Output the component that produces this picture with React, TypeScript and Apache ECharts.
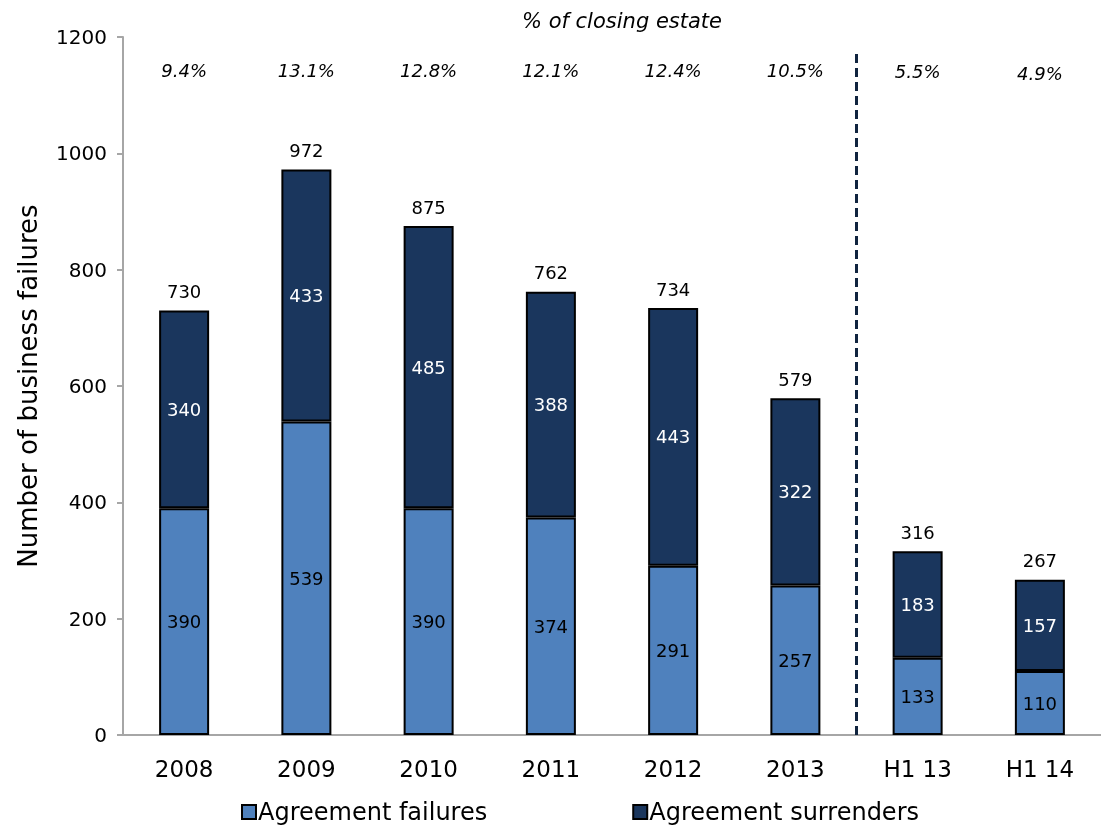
import React, { useEffect, useRef } from "react";
import * as echarts from "echarts";

const categories = ["2008", "2009", "2010", "2011", "2012", "2013", "H1 13", "H1 14"];
const failures = [390, 539, 390, 374, 291, 257, 133, 110];
const surrenders = [340, 433, 485, 388, 443, 322, 183, 157];
const totals = [730, 972, 875, 762, 734, 579, 316, 267];
const closingPct = ["9.4%", "13.1%", "12.8%", "12.1%", "12.4%", "10.5%", "5.5%", "4.9%"];
const pctLevel = [1143, 1143, 1143, 1143, 1143, 1143, 1140, 1137];
const yTicks = { min: 0, max: 1200, interval: 200 };
const dividerAt = 6;

const FONT = "DejaVu Sans";

export default function App() {
  const ref = useRef<HTMLDivElement>(null);
  useEffect(() => {
    const chart = echarts.init(ref.current!, null, { renderer: "svg" });
    chart.setOption({
      animation: false,
      textStyle: { fontFamily: FONT, color: "#000" },
      title: {
        text: "% of closing estate",
        left: 617,
        top: 5,
        textAlign: "center",
        textStyle: { fontFamily: FONT, fontStyle: "italic", fontWeight: "normal", fontSize: 21, color: "#000" },
      },
      grid: { left: 123, right: 0, top: 37, bottom: 94 },
      legend: {
        bottom: 0,
        left: 236,
        icon: "rect",
        itemWidth: 14,
        itemHeight: 14,
        itemGap: 145,
        data: ["Agreement failures", "Agreement surrenders"],
        textStyle: { fontFamily: FONT, fontSize: 24, color: "#000", padding: [0, 0, 0, -3] },
      },
      xAxis: [
        {
          type: "category",
          data: categories,
          axisLine: { lineStyle: { color: "#a6a6a6", width: 2 } },
          axisTick: { length: 8, lineStyle: { color: "#a6a6a6", width: 2 } },
          axisLabel: { fontFamily: FONT, fontSize: 23, color: "#000", margin: 22 },
        },
        { type: "value", min: 0, max: categories.length, show: false },
      ],
      yAxis: {
        type: "value",
        min: yTicks.min,
        max: yTicks.max,
        interval: yTicks.interval,
        name: "Number of business failures",
        nameLocation: "middle",
        nameGap: 82,
        nameTextStyle: { fontFamily: FONT, fontSize: 26, color: "#000" },
        axisLine: { show: true, lineStyle: { color: "#a6a6a6", width: 2 } },
        axisTick: { show: true, length: 6, lineStyle: { color: "#a6a6a6", width: 2 } },
        axisLabel: { fontFamily: FONT, fontSize: 20, color: "#000", margin: 16, formatter: (v: number) => String(v) },
        splitLine: { show: false },
      },
      series: [
        {
          name: "Agreement failures",
          type: "bar",
          stack: "t",
          barWidth: 50,
          data: failures,
          itemStyle: { color: "#4f81bd", borderColor: "#000", borderWidth: 2 },
          label: { show: true, position: "inside", fontFamily: FONT, fontSize: 18, color: "#000" },
        },
        {
          name: "Agreement surrenders",
          type: "bar",
          stack: "t",
          barWidth: 50,
          data: surrenders,
          itemStyle: { color: "#1a365d", borderColor: "#000", borderWidth: 2 },
          label: { show: true, position: "inside", fontFamily: FONT, fontSize: 18, color: "#fff" },
        },
        {
          name: "totals",
          type: "scatter",
          symbolSize: 0,
          data: totals,
          itemStyle: { opacity: 1 },
          label: { show: true, position: "top", distance: 10, fontFamily: FONT, fontSize: 18, color: "#000", formatter: "{c}" },
        },
        {
          name: "pct",
          type: "scatter",
          symbolSize: 0,
          data: pctLevel.map((v, i) => ({ value: v, name: closingPct[i] })),
          itemStyle: { opacity: 1 },
          label: { show: true, position: "inside", fontFamily: FONT, fontStyle: "italic", fontSize: 18, color: "#000", formatter: "{b}" },
        },
        {
          name: "divider",
          type: "line",
          xAxisIndex: 1,
          symbol: "none",
          data: [[dividerAt, 0], [dividerAt, 1172]],
          lineStyle: { color: "#10243f", width: 3, type: [9, 5] },
        },
      ],
    });
    return () => chart.dispose();
  }, []);
  return <div ref={ref} style={{ position: "fixed", left: 0, top: 0, width: 1101, height: 829 }} />;
}
